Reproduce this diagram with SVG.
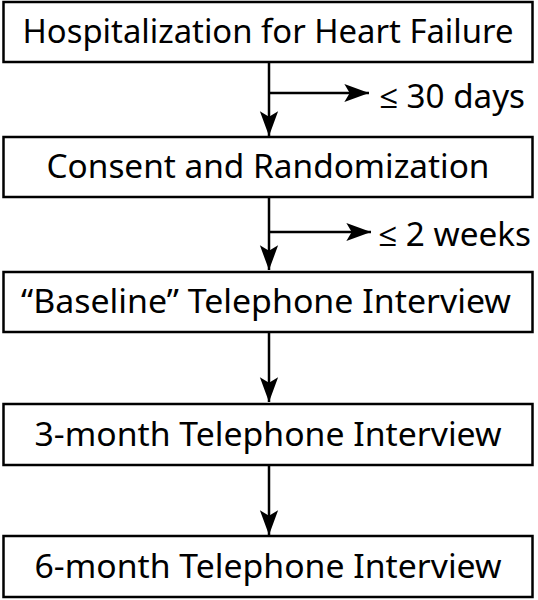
<svg xmlns="http://www.w3.org/2000/svg" width="538" height="600" viewBox="0 0 538 600">
<style>
.box{fill:#fff;stroke:#000;stroke-width:2.5}
.t{font-family:"Noto Sans","Open Sans","Liberation Sans",sans-serif;font-size:32px;fill:#000;text-anchor:middle}
.l{font-family:"Noto Sans","Open Sans","Liberation Sans",sans-serif;font-size:32px;fill:#000}
.c{fill:none;stroke:#000;stroke-width:2.5}
</style>
<defs>
<marker id="ah" markerUnits="userSpaceOnUse" markerWidth="30" markerHeight="24" viewBox="-26 -10 28 20" refX="0" refY="0" orient="auto">
<path d="M0,0 L-23,-8.5 L-18,0 L-23,8.5 Z" fill="#000"/>
</marker>
</defs>
<rect width="538" height="600" fill="#fff"/>
<g id="connectors">
<line class="c" x1="269" y1="62" x2="269" y2="136" marker-end="url(#ah)"/>
<line class="c" x1="269" y1="93" x2="369" y2="93" marker-end="url(#ah)"/>
<line class="c" x1="269" y1="197" x2="269" y2="270" marker-end="url(#ah)"/>
<line class="c" x1="269" y1="232" x2="371" y2="232" marker-end="url(#ah)"/>
<line class="c" x1="269" y1="332" x2="269" y2="402" marker-end="url(#ah)"/>
<line class="c" x1="269" y1="465" x2="269" y2="535" marker-end="url(#ah)"/>
<text class="l" x="379" y="108" textLength="146" lengthAdjust="spacingAndGlyphs">≤ 30 days</text>
<text class="l" x="378" y="246" textLength="153" lengthAdjust="spacingAndGlyphs">≤ 2 weeks</text>
</g>
<g id="n1">
<rect class="box" x="3.5" y="2" width="529" height="60"/>
<text class="t" x="268" y="43" textLength="491" lengthAdjust="spacingAndGlyphs">Hospitalization for Heart Failure</text>
</g>
<g id="n2">
<rect class="box" x="3.5" y="137" width="529" height="60"/>
<text class="t" x="268" y="178" textLength="443" lengthAdjust="spacingAndGlyphs">Consent and Randomization</text>
</g>
<g id="n3">
<rect class="box" x="3.5" y="272" width="529" height="60"/>
<text class="t" x="266" y="313" textLength="490" lengthAdjust="spacingAndGlyphs">“Baseline” Telephone Interview</text>
</g>
<g id="n4">
<rect class="box" x="3.5" y="404" width="529" height="61"/>
<text class="t" x="268" y="446" textLength="467" lengthAdjust="spacingAndGlyphs">3-month Telephone Interview</text>
</g>
<g id="n5">
<rect class="box" x="3.5" y="536" width="529" height="61"/>
<text class="t" x="268" y="578" textLength="467" lengthAdjust="spacingAndGlyphs">6-month Telephone Interview</text>
</g>
</svg>
